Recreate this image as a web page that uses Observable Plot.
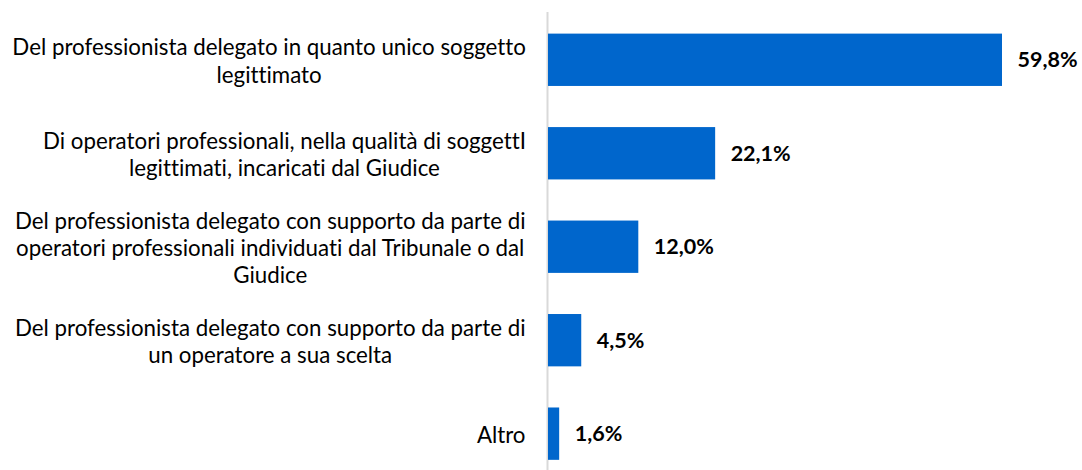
<!DOCTYPE html>
<html><head><meta charset="utf-8">
<script src="https://cdn.jsdelivr.net/npm/d3@7"></script>
<script src="https://cdn.jsdelivr.net/npm/@observablehq/plot@0.6"></script>
<style>body{margin:0;background:#fff;} #chart svg{display:block;} #chart svg text{font-variant-ligatures:none;font-feature-settings:"liga" 0;}</style>
</head><body><div id="chart"></div>
<script>
const categories = [
  "Del professionista delegato in quanto unico soggetto\nlegittimato",
  "Di operatori professionali, nella qualità di soggettI\nlegittimati, incaricati dal Giudice",
  "Del professionista delegato con supporto da parte di\noperatori professionali individuati dal Tribunale o dal\nGiudice",
  "Del professionista delegato con supporto da parte di\nun operatore a sua scelta",
  "Altro"
];
const values = [59.8, 22.1, 12.0, 4.5, 1.6];

const FONT = "Lato";
const labelSize = 22.3;
const valueSize = 21.5;
const gap = 22;

const data = categories.map((c, i) => ({category: c, value: values[i]}));
const fmt = v => v.toFixed(1).replace(".", ",") + "%";

const ctx = document.createElement("canvas").getContext("2d");
const blockWidth = c => Math.max(...c.split("\n").map(l => ctx.measureText(l).width));

Promise.all([
  document.fonts.load(`${labelSize}px ${FONT}`),
  document.fonts.load(`bold ${valueSize}px ${FONT}`)
]).then(() => {
  ctx.font = `${labelSize}px ${FONT}`;
  const marks = [
    Plot.ruleX([0], {stroke: "#d9d9d9", strokeWidth: 2}),
    Plot.barX(data, {x: "value", y: "category", fill: "#0066CC", insetLeft: 1}),
    Plot.text(data, {x: "value", y: "category", text: d => fmt(d.value), textAnchor: "start", dx: 15, fontWeight: "bold", fontSize: valueSize, fill: "#000"}),
    ...data.map(d => Plot.text([d], {
      x: () => 0, y: "category", text: "category",
      textAnchor: "middle", lineAnchor: "middle", lineHeight: 1.22,
      dx: -(gap + blockWidth(d.category) / 2),
      fontSize: labelSize, fill: "#000"
    }))
  ];
  const chart = Plot.plot({
    width: 1082, height: 470,
    marginLeft: 547, marginRight: 80, marginTop: 12, marginBottom: 0,
    style: {fontFamily: FONT, background: "#fff"},
    x: {domain: [0, 59.8], axis: null},
    y: {domain: categories, axis: null, round: false, paddingInner: 0.44, paddingOuter: 0.17, align: 0.68},
    marks
  });
  document.getElementById("chart").append(chart);
});
</script>
</body></html>
